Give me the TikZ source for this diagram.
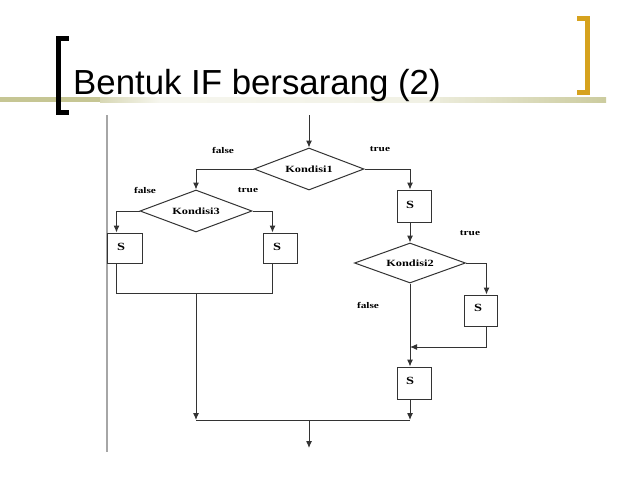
\documentclass[tikz,border=0pt]{standalone}
\usepackage{fontspec}
\setmainfont{Liberation Serif}
\newfontfamily\titlefont{Liberation Sans}
\newfontfamily\diafont[FakeStretch=1.3]{Liberation Serif Bold}
\usetikzlibrary{shapes.geometric,arrows.meta,calc}
\definecolor{olive}{HTML}{C6C694}
\definecolor{goldb}{HTML}{D6A21E}
\definecolor{lineg}{HTML}{333333}
\begin{document}
\begin{tikzpicture}[x=1pt,y=-1pt,
  cond/.style={diamond,draw=lineg,line width=1pt,inner sep=0pt,aspect=2.6,font=\diafont\fontsize{9.5}{10}\selectfont},
  sbox/.style={draw=lineg,line width=1pt,inner sep=0pt,font=\diafont\fontsize{11}{12}\selectfont},
  lbl/.style={inner sep=0pt,font=\diafont\fontsize{8.7}{9}\selectfont},
  conn/.style={draw=lineg,line width=1pt},
  arr/.style={conn,-{Latex[length=7pt,width=6pt]}}]
\useasboundingbox[fill=white] (0,0) rectangle (638,479);
% header rule
\fill[olive] (0,97) rectangle (100,102);
\shade[left color=olive!70,right color=olive!15] (100,97) rectangle (160,102);
\shade[left color=olive!15,right color=olive!25] (160,97) rectangle (440,102);
\shade[left color=olive!35,right color=olive!90] (440,97) rectangle (606,102);
% brackets
\fill[black] (56,36) rectangle (61,115);
\fill[black] (56,36) rectangle (69,41);
\fill[black] (56,110) rectangle (69,115);
\fill[goldb] (585,16) rectangle (590,95);
\fill[goldb] (577,16) rectangle (590,21);
\fill[goldb] (577,90) rectangle (590,95);
% title
\node[anchor=base west,inner sep=0pt,font=\titlefont\fontsize{34.8}{40}\selectfont] (title) at (73,94) {Bentuk IF bersarang (2)};
% left border of diagram
\draw[color=black!35,line width=1.5pt] (107,115) -- (107,452);
% nodes
\node[cond,minimum width=110pt,minimum height=42pt] (k1) at (309,169) {Kondisi1};
\node[cond,minimum width=112pt,minimum height=42pt] (k3) at (196,211) {Kondisi3};
\node[cond,minimum width=111pt,minimum height=40pt] (k2) at (410,263) {Kondisi2};
\node[sbox,minimum width=35pt,minimum height=30pt] (sL) at (124.5,248) {};
\node[sbox,minimum width=34pt,minimum height=30pt] (sR) at (280,248) {};
\node[sbox,minimum width=34pt,minimum height=32pt] (s1) at (414,206) {};
\node[sbox,minimum width=33pt,minimum height=31pt] (s5) at (480.5,310.5) {};
\node[sbox,minimum width=34pt,minimum height=32pt] (s4) at (414,383) {};
\node[sbox,draw=none] (tL) at (121,247) {S};
\node[sbox,draw=none] (tR) at (277,247) {S};
\node[sbox,draw=none] (t1) at (410,205) {S};
\node[sbox,draw=none] (t5) at (478,308) {S};
\node[sbox,draw=none] (t4) at (410,381) {S};
% labels
\node[lbl] (f1) at (223,150) {false};
\node[lbl] (r1) at (380,149) {true};
\node[lbl] (f3) at (145,190) {false};
\node[lbl] (r3) at (248,190) {true};
\node[lbl] (r2) at (470,233) {true};
\node[lbl] (f2) at (368,305) {false};
% connector points
\coordinate (entry) at (309,115);
\coordinate (s1t) at (k2.north |- s1.north);
\coordinate (s1b) at (k2.north |- s1.south);
\coordinate (sLt) at ($(sL.north west)+(10,0)$);
\coordinate (sLb) at ($(sL.south west)+(10,0)$);
\coordinate (sRt) at ($(sR.north west)+(10,0)$);
\coordinate (sRb) at ($(sR.south west)+(10,0)$);
\coordinate (s5t) at ($(s5.north west)+(23,0)$);
\coordinate (s5b) at ($(s5.south west)+(23,0)$);
\coordinate (s4t) at (k2.south |- s4.north);
\coordinate (s4b) at (k2.south |- s4.south);
\coordinate (j3) at (196,293);
\coordinate (m2) at (410,347);
\coordinate (jL) at (196,420);
\coordinate (jR) at (410,420);
\coordinate (jM) at (309,420);
\coordinate (exit) at (309,448);
% connectors
\draw[arr] (entry) -- (k1.north);
\draw[arr] (k1.west) -| (k3.north);
\draw[arr] (k1.east) -| (s1t);
\draw[arr] (k3.west) -| (sLt);
\draw[arr] (k3.east) -| (sRt);
\draw[conn] (sLb) -- (sLb |- j3) -- (sRb |- j3) -- (sRb);
\draw[arr] (j3) -- (jL);
\draw[arr] (s1b) -- (k2.north);
\draw[arr] (k2.east) -| (s5t);
\draw[arr] (s5b) |- (m2);
\draw[arr] (k2.south) -- (s4t);
\draw[arr] (s4b) -- (jR);
\draw[conn] (jL) -- (jR);
\draw[arr] (jM) -- (exit);
\end{tikzpicture}
\end{document}
